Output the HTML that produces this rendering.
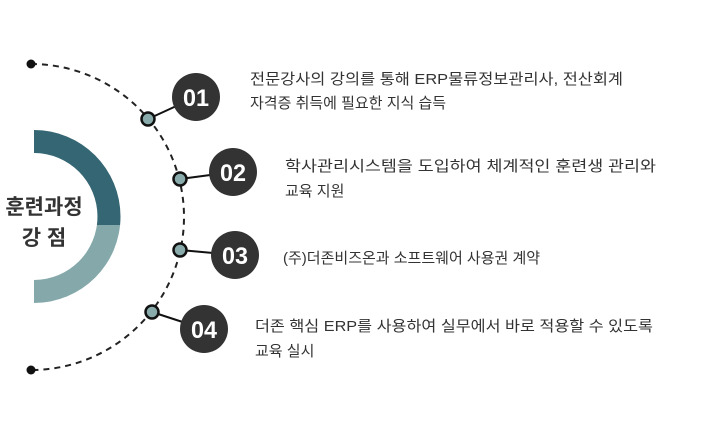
<!DOCTYPE html>
<html><head><meta charset="utf-8"><style>
html,body{margin:0;padding:0;background:#fff;}
svg{display:block;}
text{font-family:"Liberation Sans","Noto Sans CJK KR",sans-serif;}
</style></head><body>
<svg width="704" height="428" viewBox="0 0 704 428" xmlns="http://www.w3.org/2000/svg">
<defs>
<clipPath id="top"><rect x="0" y="0" width="200" height="225"/></clipPath>
<clipPath id="bot"><rect x="0" y="225" width="200" height="200"/></clipPath>
</defs>
<path d="M34,130 A86.5,86.5 0 0 1 34,303 L34,280 A63.5,63.5 0 0 0 34,153 Z" fill="#85a9aa" clip-path="url(#bot)"/>
<path d="M34,130 A86.5,86.5 0 0 1 34,303 L34,280 A63.5,63.5 0 0 0 34,153 Z" fill="#356674" clip-path="url(#top)"/>
<text x="44" y="214" font-size="21" font-weight="bold" fill="#333" text-anchor="middle">훈련과정</text>
<text x="44" y="245" font-size="21" font-weight="bold" fill="#333" text-anchor="middle">강 점</text>
<path d="M31,64 A153,153 0 0 1 31,370" fill="none" stroke="#222" stroke-width="2" stroke-dasharray="6,5"/>
<circle cx="31" cy="64" r="4.5" fill="#111"/>
<circle cx="31" cy="370" r="4.5" fill="#111"/>
<g stroke="#111" stroke-width="2">
<line x1="148" y1="119" x2="196" y2="97"/>
<line x1="180" y1="179" x2="233" y2="172"/>
<line x1="180" y1="250" x2="235" y2="255"/>
<line x1="152" y1="312" x2="204" y2="329"/>
</g>
<g fill="#333">
<circle cx="196" cy="97" r="24"/>
<circle cx="233" cy="172" r="24"/>
<circle cx="235" cy="255" r="24"/>
<circle cx="204" cy="329" r="24"/>
</g>
<g fill="#8aabab" stroke="#111" stroke-width="2.5">
<circle cx="148" cy="119" r="6.5"/>
<circle cx="180" cy="179" r="6.5"/>
<circle cx="180" cy="250" r="6.5"/>
<circle cx="152" cy="312" r="6.5"/>
</g>
<g fill="#fff" font-size="24" font-weight="bold" text-anchor="middle">
<text x="196" y="106" textLength="26" lengthAdjust="spacingAndGlyphs">01</text>
<text x="233" y="181" textLength="26" lengthAdjust="spacingAndGlyphs">02</text>
<text x="235" y="264" textLength="26" lengthAdjust="spacingAndGlyphs">03</text>
<text x="204" y="338" textLength="26" lengthAdjust="spacingAndGlyphs">04</text>
</g>
<g fill="#333" font-size="15">
<text x="250" y="84" textLength="373" lengthAdjust="spacingAndGlyphs">전문강사의 강의를 통해 ERP물류정보관리사, 전산회계</text>
<text x="250" y="108">자격증 취득에 필요한 지식 습득</text>
<text x="285" y="171" textLength="371" lengthAdjust="spacingAndGlyphs">학사관리시스템을 도입하여 체계적인 훈련생 관리와</text>
<text x="285" y="196">교육 지원</text>
<text x="283" y="263">(주)더존비즈온과 소프트웨어 사용권 계약</text>
<text x="255" y="331" textLength="398" lengthAdjust="spacingAndGlyphs">더존 핵심 ERP를 사용하여 실무에서 바로 적용할 수 있도록</text>
<text x="255" y="356">교육 실시</text>
</g>
</svg>
</body></html>
